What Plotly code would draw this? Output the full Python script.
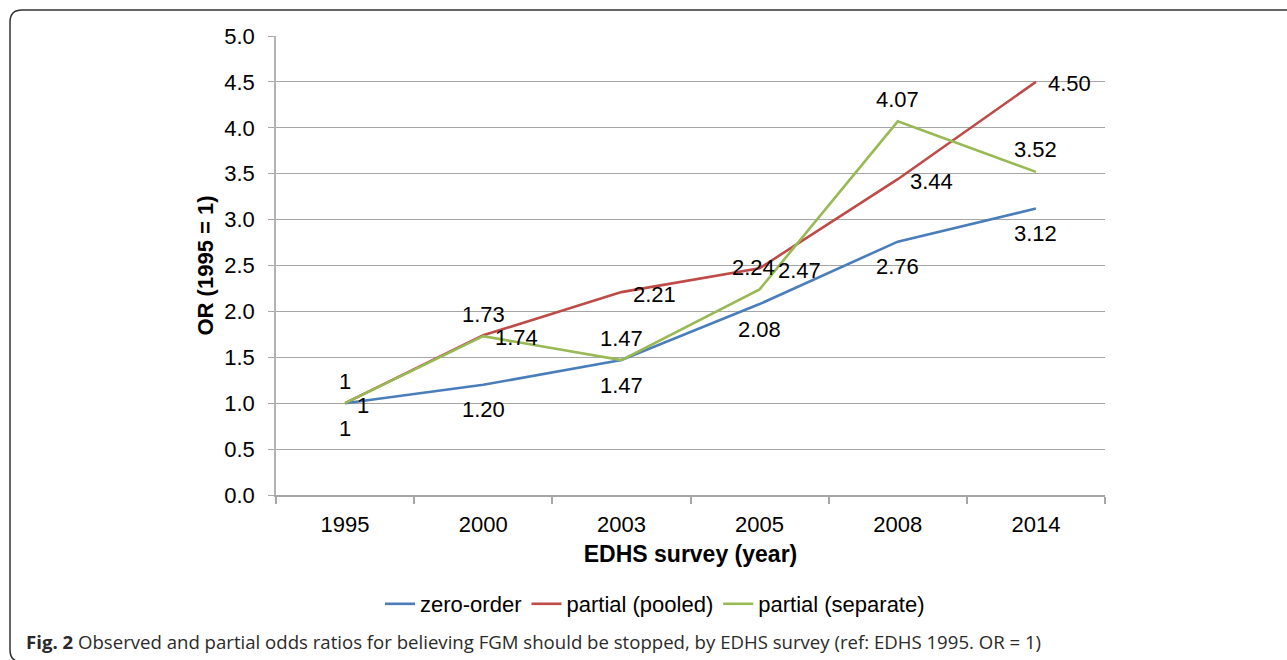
import plotly.graph_objects as go

# Survey years (categorical x axis)
years = ["1995", "2000", "2003", "2005", "2008", "2014"]

# Odds ratios (1995 = 1)
zero_order = [1, 1.20, 1.47, 2.08, 2.76, 3.12]
partial_pooled = [1, 1.74, 2.21, 2.47, 3.44, 4.50]
partial_separate = [1, 1.73, 1.47, 2.24, 4.07, 3.52]

series_names = ["zero-order", "partial (pooled)", "partial (separate)"]
series_colors = ["#4a7ebb", "#be4b48", "#98b954"]

W, H = 1287, 660
L, R, T, B = 276, 182, 36, 165
PW, PH = W - L - R, H - T - B

FONT = "Liberation Sans, Arial, Helvetica, sans-serif"


def px_to_paper(x, y):
    return (x - L) / PW, 1 - (y - T) / PH


def fmt(v):
    return "1" if v == 1 else f"{v:.2f}"


fig = go.Figure()
for name, vals, col in zip(series_names, [zero_order, partial_pooled, partial_separate], series_colors):
    fig.add_trace(go.Scatter(
        x=years, y=vals, name=name, mode="lines",
        line=dict(color=col, width=2.6),
    ))

# Data labels: zero-order below, pooled to the right, separate above.
# At 2005 the pooled and separate labels sit side by side, so they are pushed apart a little.
crowded = {"2005": 6}

annotations = []
for vals, pos in [(zero_order, "below"), (partial_pooled, "right"), (partial_separate, "above")]:
    for i, v in enumerate(vals):
        nudge = crowded.get(years[i], 0)
        a = dict(x=i, y=v, xref="x", yref="y", text=fmt(v), showarrow=False,
                 font=dict(family=FONT, size=22, color="#000000"))
        if pos == "below":
            a.update(xanchor="center", yanchor="middle", yshift=-25)
        elif pos == "above":
            a.update(xanchor="center", yanchor="middle", yshift=22, xshift=-nudge)
        else:
            a.update(xanchor="left", yanchor="middle", xshift=10 + nudge, yshift=-2)
        annotations.append(a)

# Figure caption
cx, cy = px_to_paper(24, 641)
annotations.append(dict(
    x=cx, y=cy, xref="paper", yref="paper", xanchor="left", yanchor="middle",
    showarrow=False,
    text="<b>Fig. 2</b> Observed and partial odds ratios for believing FGM should be stopped, "
         "by EDHS survey (ref: EDHS 1995. OR = 1)",
    font=dict(family="Open Sans, Noto Sans, sans-serif", size=18.6, color="#2a2a2a"),
))

# Rounded frame around the figure
pts = [(1300, 10), (22, 10), (10, 10), (10, 22), (10, 650), (10, 662), (22, 662)]
pp = [px_to_paper(x, y) for x, y in pts]
path = (f"M {pp[0][0]},{pp[0][1]} L {pp[1][0]},{pp[1][1]} "
        f"Q {pp[2][0]},{pp[2][1]} {pp[3][0]},{pp[3][1]} "
        f"L {pp[4][0]},{pp[4][1]} Q {pp[5][0]},{pp[5][1]} {pp[6][0]},{pp[6][1]}")

lx, ly = px_to_paper(655, 604)

fig.update_layout(
    width=W, height=H,
    margin=dict(l=L, r=R, t=T, b=B, pad=0),
    paper_bgcolor="#ffffff", plot_bgcolor="#ffffff",
    font=dict(family=FONT, size=22, color="#000000"),
    showlegend=True,
    legend=dict(orientation="h", x=lx, y=ly, xanchor="center", yanchor="middle",
                font=dict(family=FONT, size=22, color="#000000"),
                itemwidth=30, tracegroupgap=0, bgcolor="rgba(0,0,0,0)"),
    annotations=annotations,
    shapes=[dict(type="path", path=path, xref="paper", yref="paper",
                 line=dict(color="#333333", width=1.5), layer="above")],
    xaxis=dict(
        type="category", range=[-0.5, 5.5],
        showgrid=False, showline=True, linecolor="#a6a6a6", linewidth=1.5,
        ticks="outside", tickson="boundaries", ticklen=7, tickcolor="#a6a6a6", tickwidth=1.5,
        tickfont=dict(family=FONT, size=22), ticklabelstandoff=9,
        title=dict(text="<b>EDHS survey (year)</b>", font=dict(family=FONT, size=23), standoff=10),
        fixedrange=True,
    ),
    yaxis=dict(
        range=[0, 5], dtick=0.5, tick0=0, tickformat=".1f",
        showgrid=True, gridcolor="#a6a6a6", gridwidth=1,
        zeroline=False,
        showline=True, linecolor="#b3b3b3", linewidth=1.5,
        ticks="outside", ticklen=6, tickcolor="#a6a6a6", tickwidth=1,
        tickfont=dict(family=FONT, size=22), ticklabelstandoff=9,
        title=dict(text="<b>OR (1995 = 1)</b>", font=dict(family=FONT, size=22), standoff=5),
        fixedrange=True,
    ),
)

fig.write_html("out.html")
